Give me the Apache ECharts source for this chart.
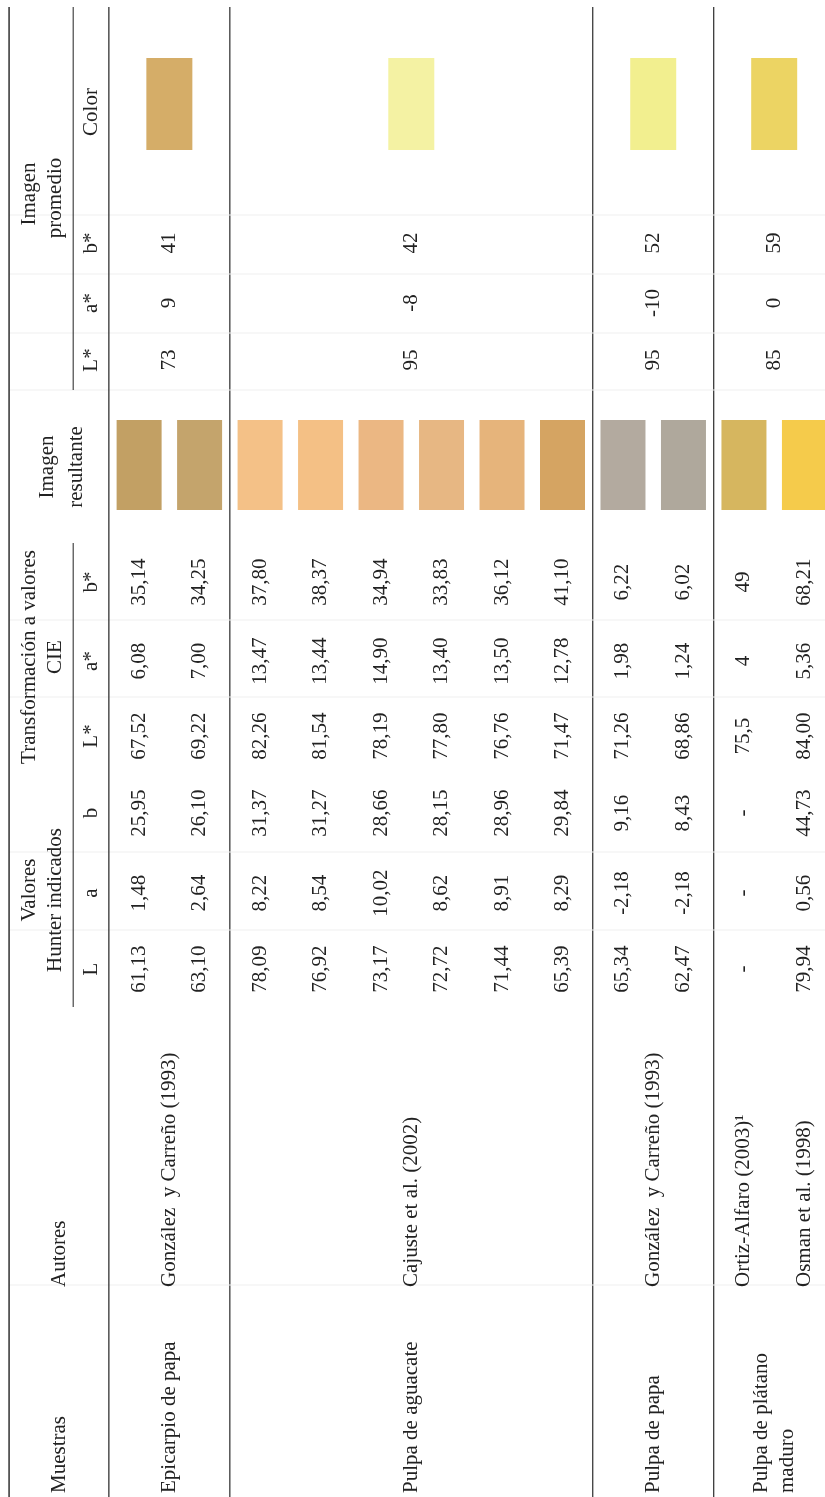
<!DOCTYPE html>
<html>
<head>
<meta charset="utf-8">
<script src="https://cdn.jsdelivr.net/npm/echarts@6/dist/echarts.min.js"></script>
<style>
html,body{margin:0;padding:0;background:#fff;}
#chart{width:825px;height:1497px;}
</style>
</head>
<body>
<div id="chart"></div>
<script>
// ---------------- DATA ----------------
const muestras = ['Epicarpio de papa', 'Pulpa de aguacate', 'Pulpa de papa', 'Pulpa de plátano\nmaduro'];
const muestraRows = [2, 6, 2, 2];
const autores = ['González  y Carreño (1993)', 'Cajuste et al. (2002)', 'González  y Carreño (1993)', 'Ortiz-Alfaro (2003)¹', 'Osman et al. (1998)'];
const autorRows = [2, 6, 2, 1, 1];

// Valores Hunter indicados (null = "-")
const hunterL = [61.13, 63.10, 78.09, 76.92, 73.17, 72.72, 71.44, 65.39, 65.34, 62.47, null, 79.94];
const hunterA = [1.48, 2.64, 8.22, 8.54, 10.02, 8.62, 8.91, 8.29, -2.18, -2.18, null, 0.56];
const hunterB = [25.95, 26.10, 31.37, 31.27, 28.66, 28.15, 28.96, 29.84, 9.16, 8.43, null, 44.73];
// Transformación a valores CIE
const cieL = [67.52, 69.22, 82.26, 81.54, 78.19, 77.80, 76.76, 71.47, 71.26, 68.86, 75.5, 84.00];
const cieA = [6.08, 7.00, 13.47, 13.44, 14.90, 13.40, 13.50, 12.78, 1.98, 1.24, 4, 5.36];
const cieB = [35.14, 34.25, 37.80, 38.37, 34.94, 33.83, 36.12, 41.10, 6.22, 6.02, 49, 68.21];
const cieDecimals = [2, 2, 2, 2, 2, 2, 2, 2, 2, 2, -1, 2]; // -1 = as reported
// Imagen resultante (colour of each row)
const imagenResultante = ['#C2A064', '#C4A46C', '#F4C187', '#F4C085', '#EBB783', '#E7B783', '#E6B47B', '#D5A462', '#B3AA9F', '#AFA89C', '#D6B65F', '#F5CB4B'];
// Imagen promedio (per sample)
const promL = [73, 95, 95, 85];
const promA = [9, -8, -10, 0];
const promB = [41, 42, 52, 59];
const promColor = ['#D5AD68', '#F4F2A3', '#F2EF8F', '#ECD463'];

// Header texts
const headerGroups = ['Valores', 'Hunter indicados', 'Transformación a valores', 'CIE', 'Imagen', 'promedio', 'Imagen', 'resultante'];
const headerCols = ['L', 'a', 'b', 'L*', 'a*', 'b*', 'L*', 'a*', 'b*', 'Color'];
const headerMain = ['Muestras', 'Autores'];

// ---------------- LAYOUT (positions / styles) ----------------
const FONT = '"Liberation Serif", "Times New Roman", serif';
const FS = 21;
const TXT = '#222';
// column centres along the page height (y, px)
const COL = {
  hL: 969, hA: 893, hB: 813, cL: 736, cA: 661, cB: 582,
  img: 465, pL: 360, pA: 303, pB: 243, color: 104,
  autor: 1287, muestra: 1493
};
// header positions in row units
const HX1 = -1.82, HX2 = -1.39, HSUB = -0.78, HMAIN = -1.31;
const TOP = -2.15, HEADRULE = -0.5, UNDER = -1.09;

function fmt(v, d) {
  if (v === null || v === undefined) return '-';
  const s = d < 0 ? String(v) : v.toFixed(d);
  return s.replace('.', ',');
}

// ---------------- BUILD CELLS ----------------
const texts = [];   // {x,y,t,align}
const rects = [];   // {x,y,w,h,c}
const rules = [];   // {x1,y1,x2,y2,c,w}

// header
texts.push({x: HX1, y: 890, t: headerGroups[0]});
texts.push({x: HX2, y: 900, t: headerGroups[1]});
texts.push({x: HX1, y: 657, t: headerGroups[2]});
texts.push({x: HX2, y: 657, t: headerGroups[3]});
texts.push({x: HX1, y: 194, t: headerGroups[4]});
texts.push({x: HX2, y: 198, t: headerGroups[5]});
texts.push({x: -1.52, y: 467, t: headerGroups[6]});
texts.push({x: -1.04, y: 467, t: headerGroups[7]});
texts.push({x: HMAIN, y: COL.muestra, t: headerMain[0], align: 'left'});
texts.push({x: HMAIN, y: COL.autor, t: headerMain[1], align: 'left'});
const subY = [COL.hL, COL.hA, COL.hB, COL.cL, COL.cA, COL.cB, COL.pL, COL.pA, COL.pB, 112];
headerCols.forEach((h, i) => texts.push({x: HSUB, y: subY[i], t: h}));

// rows
for (let i = 0; i < cieL.length; i++) {
  texts.push({x: i, y: COL.hL, t: fmt(hunterL[i], 2)});
  texts.push({x: i, y: COL.hA, t: fmt(hunterA[i], 2)});
  texts.push({x: i, y: COL.hB, t: fmt(hunterB[i], 2)});
  texts.push({x: i, y: COL.cL, t: fmt(cieL[i], cieDecimals[i])});
  texts.push({x: i, y: COL.cA, t: fmt(cieA[i], cieDecimals[i])});
  texts.push({x: i, y: COL.cB, t: fmt(cieB[i], cieDecimals[i])});
  rects.push({x: i, y: COL.img, w: 45, h: 90, c: imagenResultante[i]});
}
// authors
let r = 0;
autores.forEach((a, k) => {
  const c = r + (autorRows[k] - 1) / 2;
  texts.push({x: c, y: COL.autor, t: a, align: 'left'});
  r += autorRows[k];
});
// samples + promedio
r = 0;
muestras.forEach((m, k) => {
  const c = r + (muestraRows[k] - 1) / 2;
  texts.push({x: c, y: COL.muestra, t: m, align: 'left'});
  texts.push({x: c, y: COL.pL, t: fmt(promL[k], 0)});
  texts.push({x: c, y: COL.pA, t: fmt(promA[k], 0)});
  texts.push({x: c, y: COL.pB, t: fmt(promB[k], 0)});
  rects.push({x: c, y: COL.color, w: 46, h: 92, c: promColor[k]});
  r += muestraRows[k];
  if (k < muestras.length - 1) rules.push({x1: r - 0.5, y1: 7, x2: r - 0.5, y2: 1497, c: '#2a2a2a', w: 1.2});
});
const XMAX = 11.34;
// faint column separators
[215, 274, 333, 390, 620, 697, 852, 930, 1285].forEach(y =>
  rules.push({x1: TOP, y1: y, x2: XMAX, y2: y, c: '#efefef', w: 1}));
// main rules
rules.push({x1: TOP, y1: 7, x2: TOP, y2: 1497, c: '#222', w: 1.4});
rules.push({x1: HEADRULE, y1: 7, x2: HEADRULE, y2: 1497, c: '#222', w: 1.2});
rules.push({x1: UNDER, y1: 7, x2: UNDER, y2: 390, c: '#222', w: 1});
rules.push({x1: UNDER, y1: 543, x2: UNDER, y2: 1007, c: '#222', w: 1});

// ---------------- CHART ----------------
const chart = echarts.init(document.getElementById('chart'), null, {renderer: 'canvas'});
chart.setOption({
  animation: false,
  backgroundColor: '#fff',
  grid: {left: 0, right: 0, top: 0, bottom: 0},
  xAxis: {type: 'value', min: -2.3, max: XMAX, show: false},
  yAxis: {type: 'value', min: 0, max: 1497, inverse: true, show: false},
  series: [
    {
      type: 'custom', coordinateSystem: 'cartesian2d', silent: true, z: 1,
      data: rules.map(l => [l.x1, l.y1, l.x2, l.y2]),
      renderItem: (params, api) => {
        const l = rules[params.dataIndex];
        const p1 = api.coord([l.x1, l.y1]);
        const p2 = api.coord([l.x2, l.y2]);
        return {type: 'line', shape: {x1: p1[0], y1: p1[1], x2: p2[0], y2: p2[1]},
          style: {stroke: l.c, lineWidth: l.w}};
      }
    },
    {
      type: 'custom', coordinateSystem: 'cartesian2d', silent: true, z: 2,
      data: rects.map(b => [b.x, b.y]),
      renderItem: (params, api) => {
        const b = rects[params.dataIndex];
        const p = api.coord([b.x, b.y]);
        return {type: 'rect', shape: {x: p[0] - b.w / 2, y: p[1] - b.h / 2, width: b.w, height: b.h},
          style: {fill: b.c}};
      }
    },
    {
      type: 'custom', coordinateSystem: 'cartesian2d', silent: true, z: 3,
      data: texts.map(t => [t.x, t.y]),
      renderItem: (params, api) => {
        const t = texts[params.dataIndex];
        const p = api.coord([t.x, t.y]);
        return {type: 'text', x: p[0], y: p[1], rotation: Math.PI / 2,
          style: {text: t.t, fill: TXT, font: FS + 'px ' + FONT, fontSize: FS, fontFamily: FONT,
            align: t.align || 'center', verticalAlign: 'middle', lineHeight: 26}};
      }
    }
  ]
});
</script>
</body>
</html>
